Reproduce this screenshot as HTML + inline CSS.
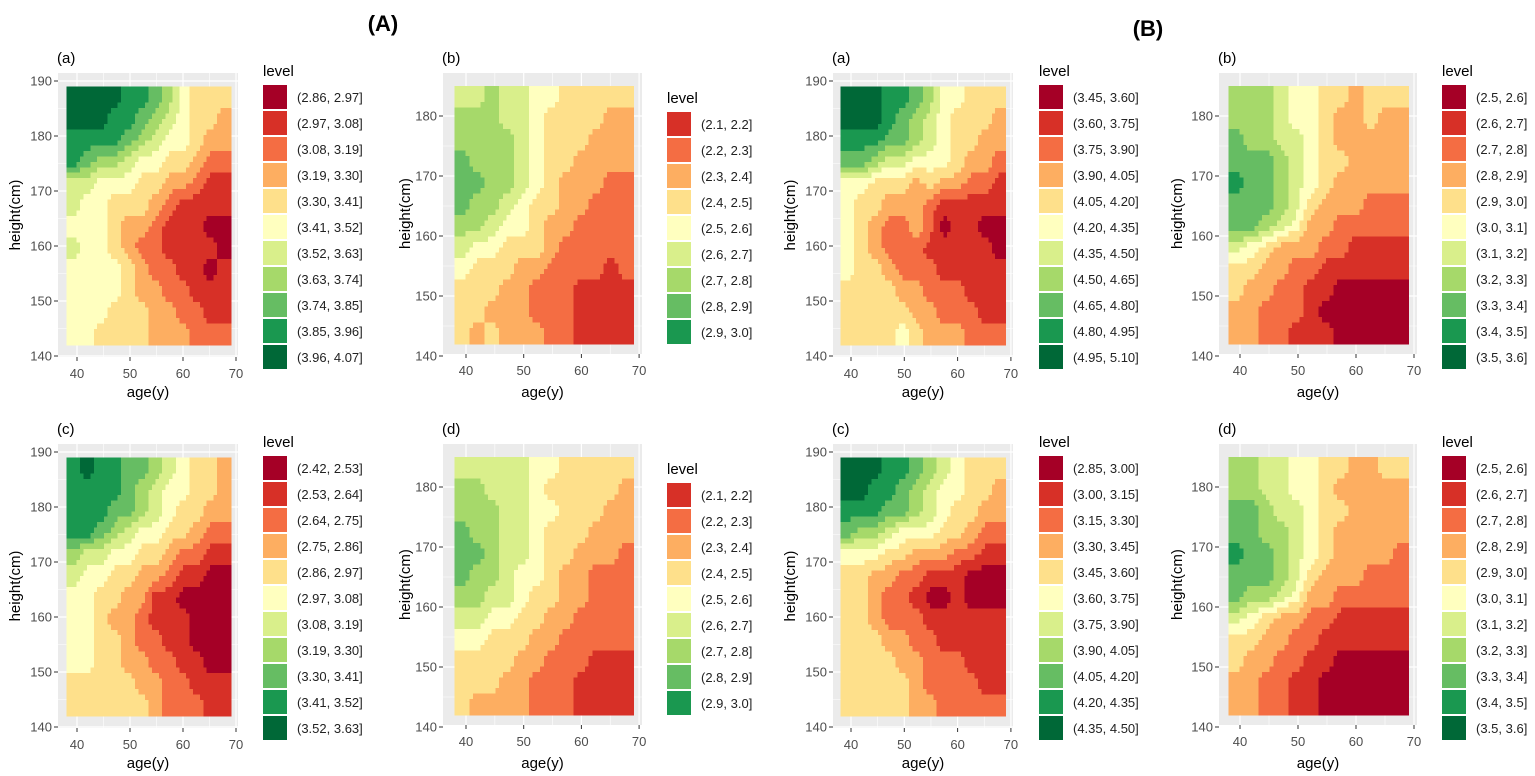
<!DOCTYPE html>
<html><head><meta charset="utf-8"><style>
html,body{margin:0;padding:0;background:#fff;}
svg{display:block;font-family:"Liberation Sans",Arial,sans-serif;}
</style></head><body>
<svg id="fig" width="1535" height="776" viewBox="0 0 1535 776">
<text x="383" y="31" font-size="22" font-weight="bold" text-anchor="middle">(A)</text>
<text x="1148" y="36" font-size="22" font-weight="bold" text-anchor="middle">(B)</text>
</svg>
<script>
const palette = ["#a50026","#d73027","#f46d43","#fdae61","#fee08b","#ffffbf","#d9ef8b","#a6d96a","#66bd63","#1a9850","#006837"];
const ageTicks = [40,50,60,70];
const heightTicksWide = [140,150,160,170,180,190];
const heightTicksNarrow = [140,150,160,170,180];

const legendAa = ["(2.86, 2.97]","(2.97, 3.08]","(3.08, 3.19]","(3.19, 3.30]","(3.30, 3.41]","(3.41, 3.52]","(3.52, 3.63]","(3.63, 3.74]","(3.74, 3.85]","(3.85, 3.96]","(3.96, 4.07]"];
const legendAb = ["(2.1, 2.2]","(2.2, 2.3]","(2.3, 2.4]","(2.4, 2.5]","(2.5, 2.6]","(2.6, 2.7]","(2.7, 2.8]","(2.8, 2.9]","(2.9, 3.0]"];
const legendAc = ["(2.42, 2.53]","(2.53, 2.64]","(2.64, 2.75]","(2.75, 2.86]","(2.86, 2.97]","(2.97, 3.08]","(3.08, 3.19]","(3.19, 3.30]","(3.30, 3.41]","(3.41, 3.52]","(3.52, 3.63]"];
const legendAd = ["(2.1, 2.2]","(2.2, 2.3]","(2.3, 2.4]","(2.4, 2.5]","(2.5, 2.6]","(2.6, 2.7]","(2.7, 2.8]","(2.8, 2.9]","(2.9, 3.0]"];
const legendBa = ["(3.45, 3.60]","(3.60, 3.75]","(3.75, 3.90]","(3.90, 4.05]","(4.05, 4.20]","(4.20, 4.35]","(4.35, 4.50]","(4.50, 4.65]","(4.65, 4.80]","(4.80, 4.95]","(4.95, 5.10]"];
const legendBb = ["(2.5, 2.6]","(2.6, 2.7]","(2.7, 2.8]","(2.8, 2.9]","(2.9, 3.0]","(3.0, 3.1]","(3.1, 3.2]","(3.2, 3.3]","(3.3, 3.4]","(3.4, 3.5]","(3.5, 3.6]"];
const legendBc = ["(2.85, 3.00]","(3.00, 3.15]","(3.15, 3.30]","(3.30, 3.45]","(3.45, 3.60]","(3.60, 3.75]","(3.75, 3.90]","(3.90, 4.05]","(4.05, 4.20]","(4.20, 4.35]","(4.35, 4.50]"];
const legendBd = ["(2.5, 2.6]","(2.6, 2.7]","(2.7, 2.8]","(2.8, 2.9]","(2.9, 3.0]","(3.0, 3.1]","(3.1, 3.2]","(3.2, 3.3]","(3.3, 3.4]","(3.4, 3.5]","(3.5, 3.6]"];

// level grids: rows top (tall) -> bottom (short), cols young -> old; values = palette index
const gridAa = [
[10,10,10,10,9,9,8,7,5,4,4,4],[10,10,10,9,9,8,7,6,5,4,4,3],[9,9,9,9,8,7,6,5,5,4,3,3],
[9,8,7,7,6,5,5,4,4,3,2,2],[6,6,5,5,5,4,4,3,3,2,1,1],[6,5,5,4,4,4,3,2,1,1,1,1],
[5,5,5,4,3,3,2,1,1,1,0,0],[6,5,5,4,3,2,2,1,1,1,1,0],[5,5,5,5,4,3,2,2,1,1,0,1],
[5,5,5,5,4,3,3,2,2,1,1,1],[5,5,5,4,4,4,3,3,2,2,1,1],[5,5,4,4,4,4,3,3,3,2,2,2]];
const gridAb = [
[6,6,7,6,6,5,5,4,4,4,4,4],[7,7,7,6,6,5,4,4,4,4,3,3],[7,7,7,7,6,5,4,4,4,3,3,3],
[8,7,7,7,6,5,4,4,3,3,3,3],[8,8,7,7,6,5,4,3,3,3,2,2],[8,7,7,6,5,4,4,3,3,2,2,2],
[7,7,6,5,5,4,3,3,2,2,2,2],[6,5,5,4,4,4,3,2,2,2,2,2],[5,4,4,4,3,3,2,2,2,2,1,2],
[4,4,4,3,3,2,2,2,1,1,1,1],[4,4,3,3,3,2,2,2,1,1,1,1],[4,3,4,3,3,3,2,2,1,1,1,1]];
const gridAc = [
[9,10,9,9,8,8,7,6,5,4,4,3],[9,9,9,9,8,7,6,5,5,4,4,3],[9,9,9,8,8,7,6,5,4,4,3,3],
[9,9,8,7,6,5,5,4,4,3,2,2],[7,6,6,5,5,4,4,3,2,2,1,1],[6,5,5,4,4,3,3,2,1,1,0,0],
[5,5,4,4,3,3,1,1,0,0,0,0],[5,5,4,3,3,2,1,1,1,0,0,0],[5,5,4,4,3,2,2,1,1,0,0,0],
[5,5,4,4,3,3,2,2,1,1,0,0],[4,4,4,4,4,3,3,2,2,1,1,1],[4,4,4,4,4,4,3,2,2,2,1,1]];
const gridAd = [
[6,6,6,6,6,5,5,4,4,4,4,4],[7,7,6,6,6,5,4,4,4,4,4,3],[7,7,7,6,6,5,5,4,4,4,3,3],
[8,7,7,6,6,5,4,4,4,3,3,3],[8,8,7,6,6,5,4,4,3,3,3,2],[8,7,7,6,5,5,4,3,3,2,2,2],
[7,7,6,6,5,4,4,3,3,2,2,2],[6,6,5,5,4,4,3,3,2,2,2,2],[5,5,4,4,4,3,3,2,2,2,2,2],
[4,4,4,4,3,3,2,2,2,1,1,1],[4,4,4,3,3,2,2,2,1,1,1,1],[4,3,3,3,3,2,2,2,1,1,1,1]];
const gridBa = [
[10,10,10,9,9,8,7,5,5,4,4,4],[10,10,10,9,8,7,6,5,4,4,4,3],[9,9,9,8,8,7,6,5,4,4,3,3],
[8,8,7,6,6,5,5,5,4,3,3,2],[5,5,4,4,4,3,4,3,3,2,2,1],[5,4,4,3,3,3,2,1,1,1,1,1],
[5,4,3,2,2,3,2,0,1,1,0,0],[5,4,3,2,2,2,1,1,1,1,1,0],[5,4,4,3,2,2,2,1,1,1,1,1],
[4,4,4,4,3,3,2,2,2,1,1,1],[4,4,4,4,4,3,3,2,2,2,1,1],[4,4,4,4,5,4,3,3,3,2,2,2]];
const gridBb = [
[7,7,7,6,5,5,4,4,3,4,4,4],[7,7,7,6,5,5,4,3,3,4,3,3],[8,7,7,6,6,5,4,3,3,3,3,3],
[8,8,8,7,6,5,4,4,3,3,3,3],[9,8,8,7,6,5,4,3,3,3,3,3],[8,8,8,7,6,4,3,3,3,2,2,2],
[8,8,7,6,5,3,3,2,2,2,2,2],[6,5,4,3,3,3,2,2,1,1,1,1],[4,4,3,3,2,2,1,1,1,1,1,1],
[4,3,3,2,2,1,1,0,0,0,0,0],[3,3,2,2,2,1,0,0,0,0,0,0],[3,3,2,2,1,1,1,0,0,0,0,0]];
const gridBc = [
[10,10,10,9,9,8,7,6,5,4,4,4],[10,10,9,9,8,7,6,5,5,4,4,3],[9,9,9,8,8,7,6,5,4,4,3,3],
[8,7,7,6,5,5,5,4,4,3,2,2],[5,5,5,4,4,3,3,3,2,2,1,1],[4,4,3,3,2,2,1,1,1,0,0,0],
[4,4,3,2,2,1,0,0,1,0,0,0],[4,4,3,2,2,2,1,1,1,1,1,1],[4,4,4,3,3,2,2,1,1,1,1,1],
[4,4,4,4,3,3,2,2,2,1,1,1],[4,4,4,4,4,3,2,2,2,2,1,1],[4,4,4,4,4,3,3,2,2,2,2,2]];
const gridBd = [
[7,7,6,6,5,5,4,4,3,3,4,4],[7,7,6,6,5,5,4,3,3,3,3,3],[8,8,7,6,6,5,4,4,3,3,3,3],
[8,8,7,7,6,5,4,3,3,3,3,3],[9,8,8,7,6,5,4,3,3,3,3,2],[8,8,8,7,6,4,3,3,3,2,2,2],
[8,7,7,6,5,3,3,2,2,2,2,2],[6,5,4,3,3,2,2,1,1,1,1,1],[4,4,3,3,2,2,1,1,1,1,1,1],
[4,3,3,2,2,1,1,0,0,0,0,0],[3,3,2,2,1,1,0,0,0,0,0,0],[3,3,2,2,1,1,0,0,0,0,0,0]];

const NS = "http://www.w3.org/2000/svg";
const svg = document.getElementById("fig");
function mk(tag, attrs, parent, text){
  const e = document.createElementNS(NS, tag);
  for (const k in attrs) e.setAttribute(k, attrs[k]);
  if (text !== undefined) e.textContent = text;
  (parent || svg).appendChild(e);
  return e;
}

const panels = [
 {id:"a-a", grid:gridAa, legend:legendAa, lo:0, gx0:58, gx1:238, gy0:73, gy1:357, ax0:77, apx:5.3, hRef:190, hy0:81, hpx:5.5, hTop:189, ticks:heightTicksWide, lx:263, ltop:85, ytitle:15},
 {id:"a-b", grid:gridAb, legend:legendAb, lo:1, gx0:443, gx1:642, gy0:73, gy1:354, ax0:466, apx:5.77, hRef:180, hy0:116, hpx:6.0, hTop:185, ticks:heightTicksNarrow, lx:667, ltop:112, ytitle:405},
 {id:"b-a", grid:gridBa, legend:legendBa, lo:0, gx0:833, gx1:1013, gy0:73, gy1:357, ax0:851, apx:5.33, hRef:190, hy0:81, hpx:5.5, hTop:189, ticks:heightTicksWide, lx:1039, ltop:85, ytitle:790},
 {id:"b-b", grid:gridBb, legend:legendBb, lo:0, gx0:1219, gx1:1417, gy0:73, gy1:354, ax0:1240, apx:5.8, hRef:180, hy0:116, hpx:6.0, hTop:185, ticks:heightTicksNarrow, lx:1442, ltop:85, ytitle:1177}
];
const rowsDef = [{dy:0, tags:["(a)","(b)","(a)","(b)"]},{dy:371, tags:["(c)","(d)","(c)","(d)"]}];
const bottomGrids = [gridAc, gridAd, gridBc, gridBd];
const bottomLegends = [legendAc, legendAd, legendBc, legendBd];
const bottomIds = ["a-c","a-d","b-c","b-d"];

rowsDef.forEach((r, ri) => {
  panels.forEach((p0, pi) => {
    const p = Object.assign({}, p0);
    if (ri === 1){ p.grid = bottomGrids[pi]; p.legend = bottomLegends[pi]; p.id = bottomIds[pi]; }
    p.tag = r.tags[pi];
    drawPanel(p, r.dy);
  });
});

// sample grid value at fractional position (bilinear, for smoother contour rendering)
function sample(grid, fi, fj){
  const nr = grid.length, nc = grid[0].length;
  fi = Math.max(0, Math.min(nr-1, fi)); fj = Math.max(0, Math.min(nc-1, fj));
  const i0 = Math.floor(fi), j0 = Math.floor(fj);
  const i1 = Math.min(nr-1, i0+1), j1 = Math.min(nc-1, j0+1);
  const ti = fi - i0, tj = fj - j0;
  const a = grid[i0][j0]*(1-tj) + grid[i0][j1]*tj;
  const b = grid[i1][j0]*(1-tj) + grid[i1][j1]*tj;
  return a*(1-ti) + b*ti;
}

function drawPanel(p, dy){
  const g = mk("g", {});
  
  
  const X = a => p.ax0 + (a - 40) * p.apx;
  const Y = h => p.hy0 + dy + (p.hRef - h) * p.hpx;
  const bg = mk("rect", {x:p.gx0, y:p.gy0+dy, width:p.gx1-p.gx0, height:p.gy1-p.gy0, fill:"#ebebeb"}, g);
  
  
  const ts = p.ticks;
  const hMin = ts[0], hMax = ts[ts.length-1];
  for (let h = hMin; h <= hMax; h += 5){
    const major = (h % 10 === 0);
    const ln = mk("line", {x1:p.gx0, x2:p.gx1, y1:Y(h), y2:Y(h), stroke:"#fff", "stroke-width": major?1.2:0.6}, g);
    
    
  }
  for (let a = 35; a <= 70; a += 5){
    const xx = X(a);
    if (xx < p.gx0 || xx > p.gx1) continue;
    const major = (a % 10 === 0);
    const ln = mk("line", {x1:xx, x2:xx, y1:p.gy0+dy, y2:p.gy1+dy, stroke:"#fff", "stroke-width": major?1.2:0.6}, g);
    
    
  }
  const grid = p.grid;
  const nr = grid.length, nc = grid[0].length;
  const aMin = 38, aMax = 69, hBot = 142, hTop = p.hTop;
  const sub = 4;
  const da = (aMax - aMin) / (nc*sub), dh = (hTop - hBot) / (nr*sub);
  const hm = mk("g", {"shape-rendering":"crispEdges"}, g);
  
  
  for (let i = 0; i < nr*sub; i++){
    for (let j = 0; j < nc*sub; j++){
      const v = Math.round(sample(grid, (i+0.5)/sub - 0.5, (j+0.5)/sub - 0.5));
      const x0 = X(aMin + j*da), x1 = X(aMin + (j+1)*da);
      const y0 = Y(hTop - i*dh), y1 = Y(hTop - (i+1)*dh);
      const c = mk("rect", {x:x0, y:y0, width:x1-x0+0.6, height:y1-y0+0.6, fill:palette[v]}, hm);
      
      
    }
  }
  ts.forEach(h => {
    const t = mk("line", {x1:p.gx0-4, x2:p.gx0, y1:Y(h), y2:Y(h), stroke:"#333", "stroke-width":1}, g);
    
    
    const l = mk("text", {x:p.gx0-6, y:Y(h)+4.5, "font-size":13, fill:"#4d4d4d", "text-anchor":"end"}, g, String(h));
    
    
  });
  ageTicks.forEach(a => {
    const t = mk("line", {x1:X(a), x2:X(a), y1:p.gy1+dy, y2:p.gy1+dy+4, stroke:"#333", "stroke-width":1}, g);
    
    
    const l = mk("text", {x:X(a), y:p.gy1+dy+21, "font-size":13, fill:"#4d4d4d", "text-anchor":"middle"}, g, String(a));
    
    
  });
  const xt = mk("text", {x:(p.gx0+p.gx1)/2, y:397+dy, "font-size":15, "text-anchor":"middle"}, g, "age(y)");
  
  
  const cy = (p.gy0+p.gy1)/2 + dy;
  const yt = mk("text", {x:p.ytitle+5, y:cy, "font-size":15, "text-anchor":"middle", transform:`rotate(-90 ${p.ytitle+5} ${cy})`}, g, "height(cm)");
  
  
  const tg = mk("text", {x:p.gx0-1, y:63+dy, "font-size":15}, g, p.tag);
  
  
  const lg = mk("g", {}, g);
  
  
  const lt = mk("text", {x:p.lx, y:p.ltop+dy-9, "font-size":15}, lg, "level");
  
  
  p.legend.forEach((lab, k) => {
    const ky = p.ltop + dy + k*26;
    const kr = mk("rect", {x:p.lx, y:ky, width:24, height:24, fill:palette[k + p.lo]}, lg);
    
    
    const kt = mk("text", {x:p.lx+34, y:ky+17, "font-size":13, fill:"#222"}, lg, lab);
    
    
  });
}
</script>
</body></html>
